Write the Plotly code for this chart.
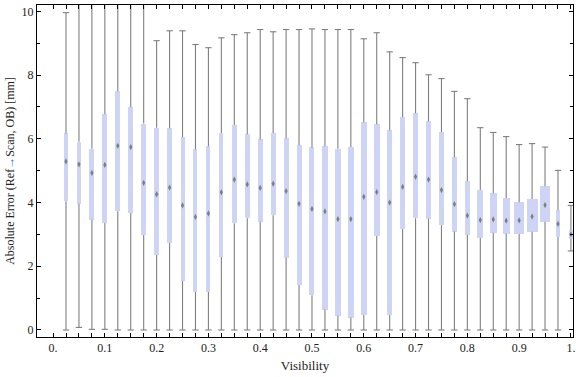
import numpy as np
import plotly.graph_objects as go

# Visibility bins (box centres)
visibility = [round(0.025 * i, 3) for i in range(1, 41)]

# Box-whisker statistics (mm)
w_min = [0.00, 0.08, 0.02, 0.02, 0.00, 0.00, 0.00, 0.00, 0.00, 0.00,
         0.00, 0.00, 0.00, 0.00, 0.00, 0.00, 0.00, 0.00, 0.00, 0.00,
         0.00, 0.00, 0.00, 0.00, 0.00, 0.00, 0.00, 0.00, 0.00, 0.00,
         0.00, 0.00, 0.00, 0.00, 0.00, 0.00, 0.00, 0.00, 0.00, 2.48]
q1 = [4.04, 3.96, 3.46, 3.36, 3.73, 3.67, 2.98, 2.35, 2.73, 1.54,
      1.19, 1.19, 2.29, 3.35, 3.51, 3.40, 3.60, 2.27, 1.41, 1.09,
      0.64, 0.45, 0.39, 0.47, 2.95, 0.47, 3.17, 3.51, 3.49, 3.29,
      3.09, 2.99, 2.89, 3.05, 3.02, 3.01, 3.08, 3.40, 2.92, 2.86]
median = [5.29, 5.20, 4.93, 5.18, 5.78, 5.74, 4.62, 4.26, 4.47, 3.91,
          3.55, 3.66, 4.32, 4.72, 4.57, 4.46, 4.59, 4.36, 3.96, 3.80,
          3.72, 3.48, 3.48, 4.18, 4.33, 4.00, 4.49, 4.81, 4.72, 4.39,
          3.95, 3.59, 3.45, 3.47, 3.43, 3.44, 3.56, 3.92, 3.33, 3.00]
q3 = [6.17, 5.91, 5.69, 6.77, 7.49, 6.99, 6.48, 6.35, 6.33, 6.05,
      5.67, 5.77, 6.18, 6.43, 6.14, 5.98, 6.18, 6.02, 5.80, 5.73,
      5.77, 5.69, 5.74, 6.52, 6.46, 6.27, 6.68, 6.80, 6.55, 6.21,
      5.42, 4.67, 4.39, 4.29, 4.14, 4.01, 4.11, 4.51, 3.76, 3.13]
w_max = [9.96, 10.6, 10.6, 10.6, 10.6, 10.6, 10.6, 9.08, 9.39, 9.39,
         8.96, 8.86, 9.17, 9.27, 9.33, 9.43, 9.36, 9.43, 9.43, 9.45,
         9.43, 9.43, 9.43, 9.14, 9.33, 8.73, 8.55, 8.39, 8.01, 7.89,
         7.49, 7.26, 6.35, 6.20, 6.07, 5.82, 5.85, 5.74, 5.01, 3.91]
# relative box widths (x units), as drawn in the reference
box_widths = [w / 518 for w in
              [3.7, 4.7, 5, 5, 5, 5, 5, 5, 5, 4, 4, 4, 4, 5, 5, 5, 5, 5, 5, 5,
               6, 6, 6, 6, 6, 5, 5, 5, 5, 5, 5, 5, 6, 7, 7, 10, 11, 10, 4.3, 4.6]]

x_tickvals = [0.0, 0.1, 0.2, 0.3, 0.4, 0.5, 0.6, 0.7, 0.8, 0.9, 1.0]
x_ticktext = ["0.", "0.1", "0.2", "0.3", "0.4", "0.5", "0.6", "0.7", "0.8", "0.9", "1."]
y_tickvals = [0, 2, 4, 6, 8, 10]

WHISKER = "#7f7f7f"
BOXFILL = "#CDD4F5"
FONT = "Liberation Serif"
TXT = "#222222"

fig = go.Figure()

# boxes (interquartile range)
fig.add_trace(go.Bar(
    x=visibility, base=q1, y=[b - a for a, b in zip(q1, q3)],
    width=box_widths, marker=dict(color=BOXFILL, line=dict(width=0)),
    showlegend=False, hoverinfo="skip"))

# whisker lines
wx, wy = [], []
for x, lo, a, b, hi in zip(visibility, w_min, q1, q3, w_max):
    wx += [x, x, None, x, x, None]
    wy += [lo, a, None, b, hi, None]
fig.add_trace(go.Scatter(x=wx, y=wy, mode="lines",
                         line=dict(color=WHISKER, width=1.1),
                         showlegend=False, hoverinfo="skip"))

# whisker caps
fig.add_trace(go.Scatter(
    x=visibility + visibility, y=w_min + w_max, mode="markers",
    marker=dict(symbol="line-ew", size=4.5, line=dict(color=WHISKER, width=1.1)),
    showlegend=False, hoverinfo="skip"))

# medians
fig.add_trace(go.Scatter(
    x=visibility, y=median, mode="markers",
    marker=dict(symbol="diamond-tall", size=4.5, color="rgba(110,110,110,0.85)",
                line=dict(width=0)),
    showlegend=False, hoverinfo="skip"))

axis_common = dict(showline=True, linecolor="black", linewidth=1, mirror="ticks",
                   ticks="inside", tickcolor="black", ticklen=4, showgrid=False,
                   zeroline=False, automargin=False,
                   tickfont=dict(family=FONT, size=12, color=TXT))

fig.update_xaxes(**axis_common, range=[-0.031, 1.004],
                 tickmode="array", tickvals=x_tickvals, ticktext=x_ticktext,
                 minor=dict(tickmode="array", tickvals=list(np.arange(0, 1.0001, 0.025)),
                            ticks="inside", ticklen=4, tickcolor="black"),
                 title=dict(text="Visibility", font=dict(family=FONT, size=13, color=TXT),
                            standoff=6))
fig.update_yaxes(**axis_common, range=[-0.22, 10.2],
                 tickmode="array", tickvals=y_tickvals,
                 minor=dict(dtick=1, tick0=0, ticks="inside", ticklen=3, tickcolor="black"),
                 title=dict(text='Absolute Error (Ref<span style="color:#2a6fd6">→</span>Scan, OB) [mm]',
                            font=dict(family=FONT, size=12, color=TXT), standoff=4))

fig.update_layout(width=576, height=377, plot_bgcolor="white", paper_bgcolor="white",
                  margin=dict(l=37, r=3, t=5, b=40), bargap=0)

fig.write_html("out.html", config={"displayModeBar": False},
               post_script="document.body.style.margin='0';")
